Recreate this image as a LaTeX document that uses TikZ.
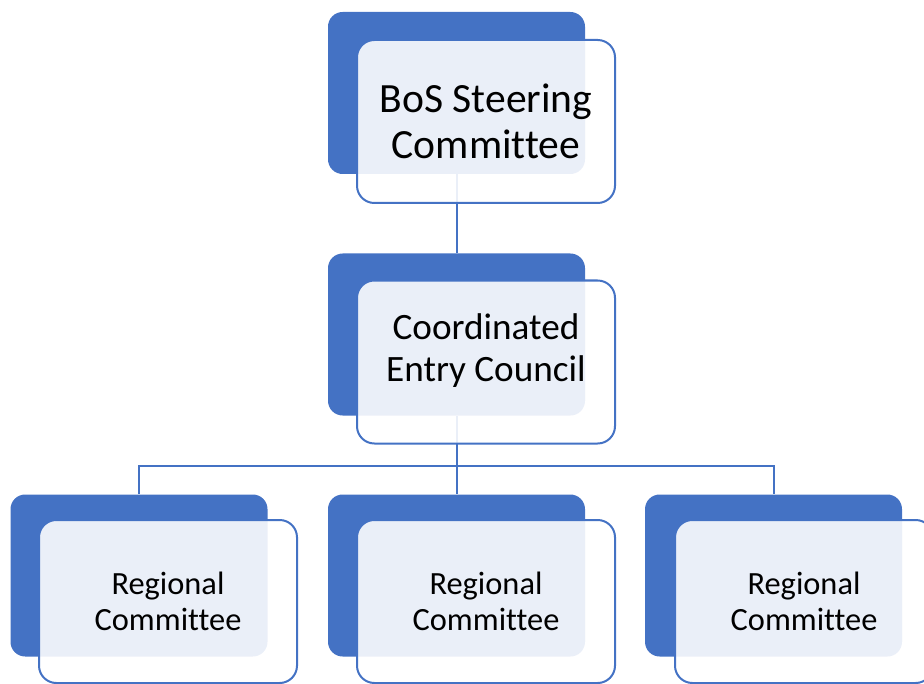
\documentclass[tikz,border=0pt]{standalone}
\usepackage{fontspec}
\setmainfont{Carlito}[Ligatures=NoCommon]
\definecolor{accent}{HTML}{4472C4}
\begin{document}
\begin{tikzpicture}[x=0.75pt, y=-0.75pt,
  back/.style = {fill=accent, rounded corners=11pt, minimum width=192.75pt, minimum height=121.5pt, inner sep=0pt},
  front/.style = {draw=accent, line width=1.5pt, fill=white, fill opacity=0.89, text opacity=1, rounded corners=13pt, minimum width=193.5pt, minimum height=122.25pt, align=center, inner sep=0pt},
  link/.style = {draw=accent, line width=1.5pt}]
  \useasboundingbox (0,0) rectangle (924,684);
  \clip (0,0) rectangle (924,684);
  % blue backing boxes
  \node[back] (b0) at (456.5,93) {};
  \node[back] (b1) at (456.5,334.5) {};
  \node[back] (b2) at (139,575.5) {};
  \node[back] (b3) at (456.5,575.5) {};
  \node[back] (b4) at (773.5,575.5) {};
  \coordinate (fork) at (456.5,466);
  \draw[link] (b0) -- (b1);
  \draw[link] (b1) -- (fork);
  \draw[link] (fork) -| (b2.north);
  \draw[link] (fork) -- (b3);
  \draw[link] (fork) -| (b4.north);
  % front boxes
  \node[front, font=\fontsize{31.2}{34}\selectfont] (bos) at (486,121.5) {BoS Steering\\Committee};
  \node[front, font=\fontsize{27.9}{31.5}\selectfont, text depth=22pt] (ce) at (486,362) {Coordinated\\Entry Council};
  \node[front, font=\fontsize{24.3}{27}\selectfont] (r1) at (168,601.5) {Regional\\Committee};
  \node[front, font=\fontsize{24.3}{27}\selectfont] (r2) at (486,601.5) {Regional\\Committee};
  \node[front, font=\fontsize{24.3}{27}\selectfont] (r3) at (804,601.5) {Regional\\Committee};
\end{tikzpicture}
\end{document}
